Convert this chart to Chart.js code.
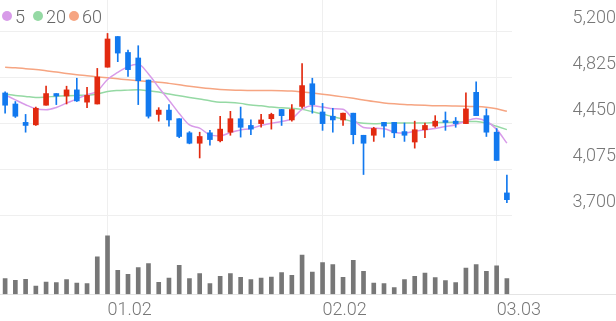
<!DOCTYPE html>
<html>
<head>
<meta charset="utf-8">
<script src="https://cdn.jsdelivr.net/npm/chart.js@4.4.1/dist/chart.umd.min.js"></script>
<style>
  html, body { margin: 0; padding: 0; background: #fff; }
  #wrap { position: relative; width: 616px; height: 321px; overflow: hidden; }
  #price { position: absolute; left: 0; top: 0; }
  #volume { position: absolute; left: 0; top: 216px; }
  #legend { position: absolute; left: 2px; top: 6px; height: 20px; display: flex; align-items: center;
            font: 300 18px Roboto; color: #666; }
  #legend .item { display: flex; align-items: center; margin-right: 3px; }
  #legend .dot { width: 10px; height: 10px; border-radius: 50%; margin-right: 3px; }
  #legend .txt { min-width: 15px; }
</style>
</head>
<body>
<div id="wrap">
  <canvas id="price" width="616" height="216"></canvas>
  <canvas id="volume" width="616" height="110"></canvas>
  <div id="legend"></div>
</div>
<script>
// tick labels
const tickIndex = [10, 31, 48];
const tickText = ['01.02', '02.02', '03.03'];
const priceTicks = [3700, 4075, 4450, 4825, 5200];

// daily candles
const opens = [4695, 4605, 4455, 4435, 4595, 4690, 4670, 4720, 4620, 4605,
               4905, 5155, 5025, 4980, 4800, 4520, 4555, 4485, 4370, 4285,
               4370, 4305, 4375, 4485, 4430, 4445, 4485, 4560, 4475, 4585,
               4770, 4540, 4505, 4475, 4530, 4350, 4350, 4455, 4455, 4380,
               4295, 4395, 4425, 4470, 4465, 4445, 4700, 4510, 4375, 3880];
const closes = [4595, 4505, 4430, 4570, 4690, 4670, 4720, 4630, 4675, 4825,
                5135, 5020, 4885, 4795, 4505, 4555, 4475, 4340, 4285, 4340,
                4315, 4400, 4485, 4415, 4400, 4475, 4520, 4510, 4560, 4755,
                4600, 4445, 4475, 4530, 4355, 4285, 4405, 4425, 4370, 4350,
                4395, 4430, 4465, 4455, 4445, 4565, 4510, 4375, 4145, 3825];
const highs = [4705, 4625, 4520, 4580, 4750, 4690, 4750, 4815, 4740, 4895,
               5180, 5155, 5045, 5080, 4800, 4575, 4600, 4485, 4380, 4375,
               4390, 4505, 4545, 4580, 4475, 4520, 4530, 4560, 4600, 4935,
               4815, 4610, 4570, 4530, 4530, 4350, 4415, 4455, 4455, 4450,
               4465, 4450, 4510, 4540, 4495, 4695, 4785, 4565, 4405, 4025];
const lows = [4530, 4495, 4375, 4430, 4595, 4600, 4605, 4625, 4575, 4605,
              4905, 4950, 4830, 4600, 4490, 4465, 4425, 4330, 4280, 4165,
              4270, 4295, 4350, 4335, 4355, 4415, 4400, 4430, 4465, 4570,
              4530, 4390, 4375, 4430, 4280, 4030, 4300, 4335, 4330, 4300,
              4245, 4330, 4415, 4390, 4415, 4445, 4510, 4340, 4145, 3800];

// moving averages
const maNames = ['5', '20', '60'];
const ma5 = [4680, 4639, 4599, 4566, 4558, 4577, 4612, 4647, 4680, 4710,
             4805, 4862, 4910, 4928, 4850, 4740, 4636, 4528, 4434, 4408,
             4353, 4345, 4372, 4393, 4405, 4430, 4448, 4462, 4485, 4561,
             4590, 4580, 4566, 4562, 4479, 4414, 4407, 4404, 4375, 4368,
             4382, 4395, 4405, 4421, 4436, 4467, 4486, 4464, 4398, 4286];
const ma20 = [4686, 4675, 4667, 4658, 4662, 4668, 4672, 4675, 4677, 4686,
              4707, 4715, 4718, 4721, 4713, 4702, 4686, 4672, 4658, 4645,
              4631, 4620, 4618, 4610, 4596, 4591, 4580, 4574, 4569, 4561,
              4542, 4523, 4501, 4482, 4461, 4447, 4444, 4447, 4450, 4450,
              4450, 4450, 4453, 4455, 4458, 4461, 4463, 4450, 4423, 4396];
const ma60 = [4905, 4900, 4893, 4886, 4876, 4866, 4853, 4843, 4835, 4826,
              4818, 4810, 4802, 4795, 4789, 4783, 4773, 4762, 4750, 4740,
              4731, 4724, 4719, 4716, 4715, 4714, 4714, 4713, 4710, 4703,
              4695, 4685, 4674, 4663, 4651, 4638, 4625, 4614, 4606, 4600,
              4597, 4594, 4591, 4590, 4588, 4586, 4584, 4578, 4566, 4545];
const maColors = ['#d89be9', '#95d9a4', '#f6a582'];

// volume (thousand shares)
const volume = [314, 280, 300, 166, 246, 234, 294, 226, 214, 746,
                1166, 480, 400, 534, 614, 240, 326, 580, 314, 414,
                214, 360, 414, 340, 294, 326, 346, 434, 380, 780,
                446, 634, 594, 340, 680, 460, 226, 214, 134, 294,
                360, 426, 334, 274, 234, 526, 594, 460, 566, 314];

const days = opens.map((_, i) => i);
const UP = '#e22a10';
const DOWN = '#1279ef';
const GRID = '#efefef';
const candleColor = ctx => closes[ctx.dataIndex] >= opens[ctx.dataIndex] ? UP : DOWN;
const xTicks = scale => { scale.ticks = tickIndex.map(v => ({ value: v })); };

Chart.defaults.font.family = 'Roboto';
Chart.defaults.font.size = 18;
Chart.defaults.font.weight = 300;
Chart.defaults.color = '#777';
Chart.defaults.animation = false;

new Chart(document.getElementById('price'), {
  type: 'bar',
  data: {
    labels: days,
    datasets: [
      ...[ma5, ma20, ma60].map((d, i) => ({
        type: 'line',
        label: maNames[i],
        data: d,
        borderColor: maColors[i],
        borderWidth: 1.5,
        pointRadius: 0,
        cubicInterpolationMode: 'monotone',
        order: 2,
      })),
      {
        label: 'wick',
        data: lows.map((l, i) => [l, highs[i]]),
        backgroundColor: candleColor,
        barThickness: 1,
        grouped: false,
        order: 1,
      },
      {
        label: 'body',
        data: opens.map((o, i) => [o, closes[i]]),
        backgroundColor: candleColor,
        barThickness: 5,
        minBarLength: 1,
        grouped: false,
        order: 0,
      },
    ]
  },
  options: {
    responsive: false,
    layout: { padding: { bottom: 1 } },
    plugins: { legend: { display: false }, tooltip: { enabled: false } },
    scales: {
      x: {
        position: 'top',
        offset: true,
        afterBuildTicks: xTicks,
        ticks: { display: false },
        grid: { offset: false, color: GRID, tickLength: 31 },
        border: { display: false },
      },
      y: {
        position: 'right',
        min: 3700,
        max: 5200,
        afterBuildTicks: s => { s.ticks = priceTicks.map(v => ({ value: v })); },
        afterFit: s => { s.width = 104; s.paddingTop = 0; s.paddingBottom = 0; },
        ticks: {
          crossAlign: 'far',
          padding: 55,
          labelOffset: -13,
          callback: v => v.toLocaleString('en-US'),
        },
        grid: { color: GRID, drawTicks: false },
        border: { display: false },
      }
    }
  }
});

new Chart(document.getElementById('volume'), {
  type: 'bar',
  data: {
    labels: days,
    datasets: [{ label: 'volume', data: volume, backgroundColor: '#777', barThickness: 4 }]
  },
  options: {
    responsive: false,
    plugins: { legend: { display: false }, tooltip: { enabled: false } },
    scales: {
      x: {
        offset: true,
        afterBuildTicks: xTicks,
        ticks: {
          align: 'start',
          padding: 5,
          autoSkip: false,
          maxRotation: 0,
          callback: v => tickText[tickIndex.indexOf(v)],
        },
        grid: { offset: false, color: GRID, drawTicks: false },
        border: { display: false },
      },
      y: {
        position: 'right',
        min: 0,
        max: 1560,
        afterBuildTicks: s => { s.ticks = [{ value: 0 }]; },
        afterFit: s => { s.width = 104; },
        ticks: { display: false },
        grid: { color: '#e4e4e4', tickLength: 104 },
        border: { display: false },
      }
    }
  }
});

// legend for the moving averages
document.getElementById('legend').innerHTML = maNames.map((n, i) =>
  `<span class="item"><span class="dot" style="background:${maColors[i]}"></span><span class="txt">${n}</span></span>`
).join('');
</script>
</body>
</html>
